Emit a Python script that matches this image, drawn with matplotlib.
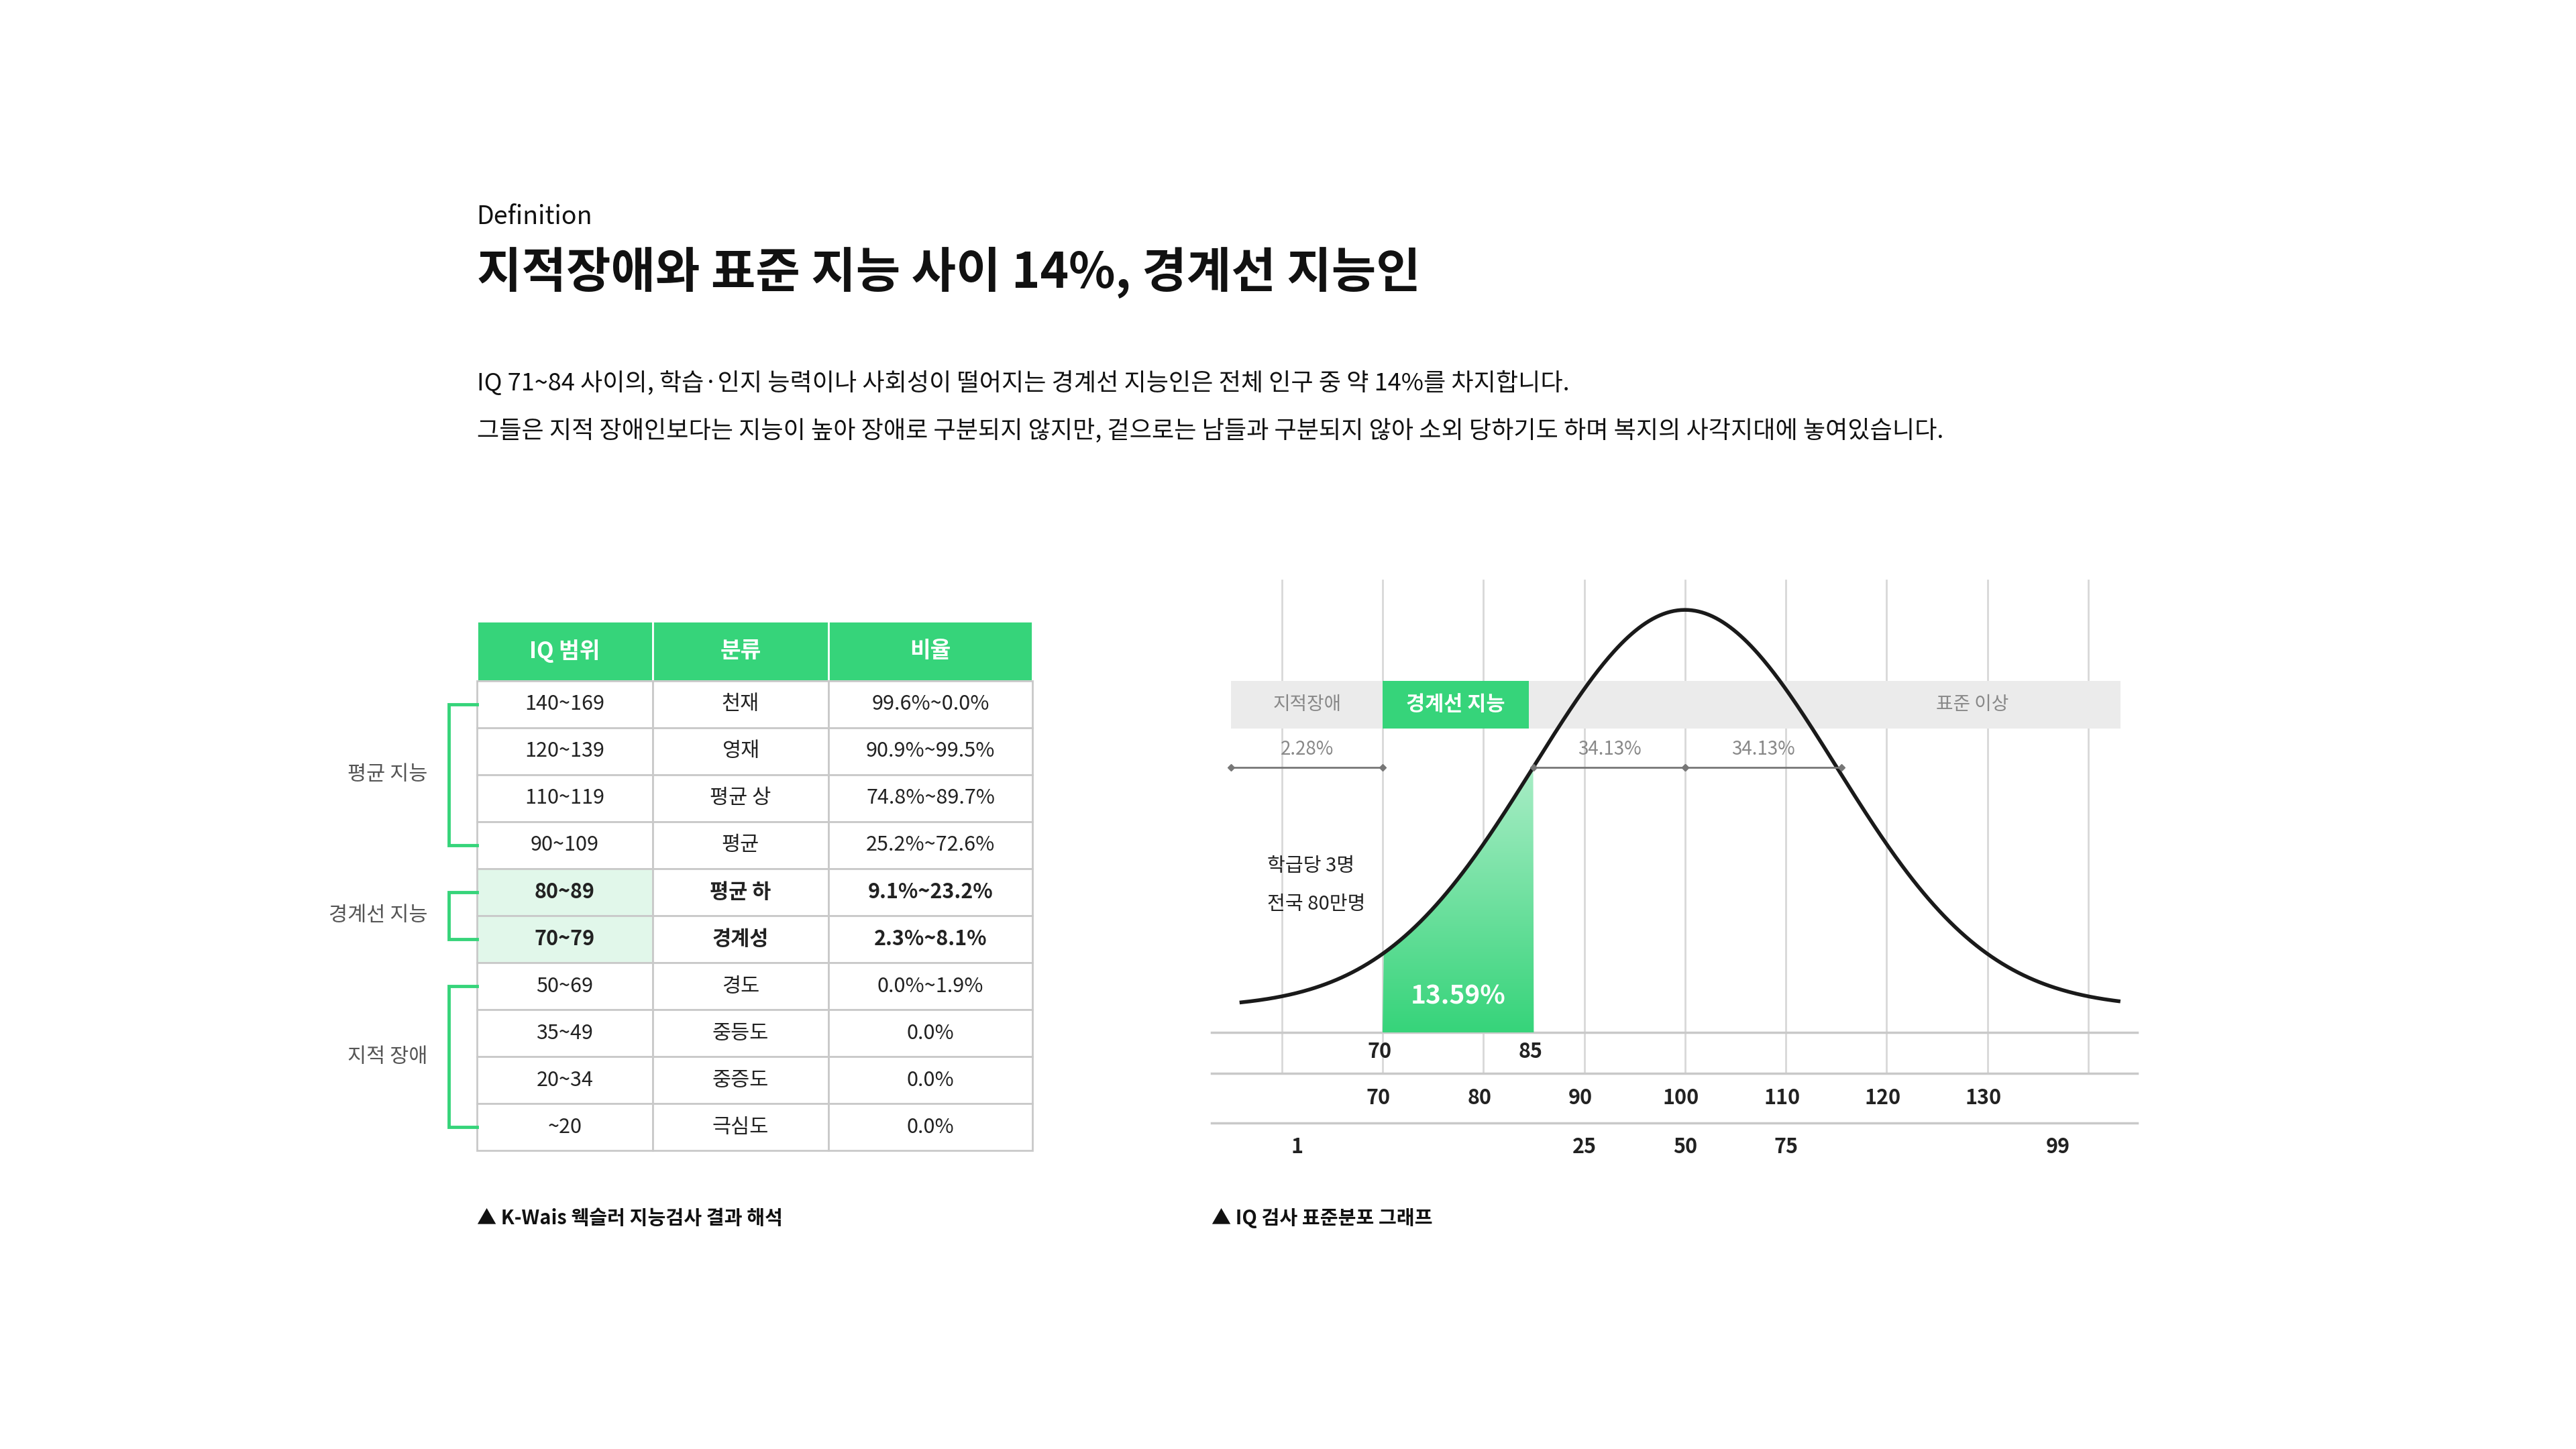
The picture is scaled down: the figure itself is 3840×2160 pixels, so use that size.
import numpy as np
import matplotlib
matplotlib.use("Agg")
import matplotlib.pyplot as plt
from matplotlib.patches import Rectangle, Polygon
from matplotlib.colors import LinearSegmentedColormap

plt.rcParams["font.family"] = ["Noto Sans CJK KR", "Noto Sans CJK JP", "Noto Sans CJK SC", "DejaVu Sans"]

# ---------------- data ----------------
headers = ["IQ 범위", "분류", "비율"]
iq_ranges = ["140~169", "120~139", "110~119", "90~109", "80~89", "70~79", "50~69", "35~49", "20~34", "~20"]
classes = ["천재", "영재", "평균 상", "평균", "평균 하", "경계성", "경도", "중등도", "중증도", "극심도"]
ratios = ["99.6%~0.0%", "90.9%~99.5%", "74.8%~89.7%", "25.2%~72.6%", "9.1%~23.2%",
          "2.3%~8.1%", "0.0%~1.9%", "0.0%", "0.0%", "0.0%"]
highlight_rows = [4, 5]
groups = [("평균 지능", 0, 3), ("경계선 지능", 4, 5), ("지적 장애", 6, 9)]

mean_iq, sd_iq = 100, 15
grid_iq = [60, 70, 80, 90, 100, 110, 120, 130, 140]
border_labels = [70, 85]
iq_labels = [70, 80, 90, 100, 110, 120, 130]
pct_labels = ["1", "25", "50", "75", "99"]
pct_pos = [61.5, 90, 100, 110, 137]
zones = [("지적장애", 55, 70), ("경계선 지능", 70, 84.5), ("표준 이상", 84.5, 143.2)]
spans = [("2.28%", 55, 70), ("34.13%", 85, 100), ("34.13%", 100, 115.5)]
border_share = "13.59%"

# ---------------- layout ----------------
W = 1567.0
S = 3840 / W
GREEN = "#36D47A"
LIGHT = "#E1F7EA"
LINE = "#C9C9C9"

fig = plt.figure(figsize=(38.4, 21.6), dpi=100)
ax = fig.add_axes([0, 0, 1, 1])
ax.set_xlim(0, 3840); ax.set_ylim(2160, 0); ax.axis("off")

def P(v): return v * S

ax.text(P(290), P(132), "Definition", fontsize=27, va="center", ha="left", color="#111")
ax.text(P(290), P(166), "지적장애와 표준 지능 사이 14%, 경계선 지능인", fontsize=52,
        fontweight="bold", va="center", ha="left", color="#111")
ax.text(P(290), P(233), "IQ 71~84 사이의, 학습·인지 능력이나 사회성이 떨어지는 경계선 지능인은 전체 인구 중 약 14%를 차지합니다.",
        fontsize=26, va="center", ha="left", color="#111")
ax.text(P(290), P(262), "그들은 지적 장애인보다는 지능이 높아 장애로 구분되지 않지만, 겉으로는 남들과 구분되지 않아 소외 당하기도 하며 복지의 사각지대에 놓여있습니다.",
        fontsize=26, va="center", ha="left", color="#111")

# table
cols = [290, 397, 504, 628]
ht, hb = 378, 414
rh = (700 - 414) / 10.0
for j in range(3):
    ax.add_patch(Rectangle((P(cols[j]), P(ht)), P(cols[j+1]-cols[j]), P(hb-ht),
                           facecolor=GREEN, edgecolor="white", lw=2))
    ax.text(P((cols[j]+cols[j+1])/2), P((ht+hb)/2), headers[j], color="white",
            fontsize=24, fontweight="bold", ha="center", va="center")
for i in range(10):
    y0 = hb + i*rh
    bold = i in highlight_rows
    vals = [iq_ranges[i], classes[i], ratios[i]]
    for j in range(3):
        fc = LIGHT if (bold and j == 0) else "white"
        ax.add_patch(Rectangle((P(cols[j]), P(y0)), P(cols[j+1]-cols[j]), P(rh),
                               facecolor=fc, edgecolor=LINE, lw=2))
        ax.text(P((cols[j]+cols[j+1])/2), P(y0+rh/2), vals[j], color="#222",
                fontsize=22, fontweight="bold" if bold else "normal", ha="center", va="center")
for name, a, b in groups:
    ya, yb = P(hb + (a+0.5)*rh), P(hb + (b+0.5)*rh)
    ax.plot([P(290), P(273), P(273), P(290)], [ya, ya, yb, yb], color=GREEN, lw=3.5,
            solid_joinstyle="miter")
    ax.text(P(260), (ya+yb)/2, name, fontsize=22, color="#555", ha="right", va="center")

ax.text(P(290), P(741), "▲ K-Wais 웩슬러 지능검사 결과 해석", fontsize=21, fontweight="bold",
        ha="left", va="center", color="#111")
ax.text(P(737), P(741), "▲ IQ 검사 표준분포 그래프", fontsize=21, fontweight="bold",
        ha="left", va="center", color="#111")

# chart axes: x in IQ, y in figure pixels
k = 6.133
cax = fig.add_axes([0, 0, 1, 1])
cax.patch.set_alpha(0)
xl = (100 + (0 - 1025)/k, 100 + (W - 1025)/k)
cax.axis("off")

for g in grid_iq:
    cax.plot([g, g], [P(353), P(653)], color="#D8D8D8", lw=2, zorder=1)
for yy in [628, 653, 683]:
    cax.plot([100 + (737-1025)/k, 100 + (1300-1025)/k], [P(yy), P(yy)], color=LINE, lw=2.5, zorder=2)

for idx, (name, a, b) in enumerate(zones):
    fc = GREEN if idx == 1 else "#EBEBEB"
    cax.add_patch(Rectangle((a, P(414)), b - a, P(29), facecolor=fc, edgecolor="none", zorder=3))
    cax.text((a+b)/2 if idx < 2 else 128.5, P(428.5), name, fontsize=22 if idx == 1 else 20,
             fontweight="bold" if idx == 1 else "normal",
             color="white" if idx == 1 else "#888", ha="center", va="center", zorder=4)

xs = np.linspace(56, 143, 500)
peak_px, base_px = P(371), P(613)
pdf = np.exp(-0.5 * ((xs - mean_iq)/sd_iq)**2)
ys = base_px - (base_px - peak_px) * pdf
m = (xs >= 70) & (xs <= 85)
poly_x = np.concatenate([[70], xs[m], [85]])
poly_y = np.concatenate([[P(628)], ys[m], [P(628)]])
poly = Polygon(np.column_stack([poly_x, poly_y]), closed=True, facecolor="none", edgecolor="none")
cax.add_patch(poly)
cmap = LinearSegmentedColormap.from_list("g", ["#A9EDC6", GREEN])
grad = np.linspace(0, 1, 256).reshape(-1, 1)
im = cax.imshow(grad, cmap=cmap, extent=[70, 85, P(628), P(467)], aspect="auto", zorder=5, origin="upper")
im.set_clip_path(poly)
cax.plot(xs, ys, color="#1A1A1A", lw=4, zorder=6)
cax.text(77.5, P(606), border_share, fontsize=28, fontweight="bold", color="white",
         ha="center", va="center", zorder=7)

for lab, a, b in spans:
    cax.plot([a, b], [P(467), P(467)], color="#777", lw=2, marker="D", markersize=5, zorder=7)
    cax.text((a+b)/2, P(456), lab, fontsize=20, color="#888", ha="center", va="center", zorder=7)

x0 = 100 + (771-1025)/k
cax.text(x0, P(527), "학급당 3명", fontsize=21, color="#222", ha="left", va="center")
cax.text(x0, P(550), "전국 80만명", fontsize=21, color="#222", ha="left", va="center")

for v in border_labels:
    cax.text(v - 0.3, P(640), str(v), fontsize=22, fontweight="bold", color="#222", ha="center", va="center")
for v in iq_labels:
    cax.text(v - 0.4, P(668), str(v), fontsize=22, fontweight="bold", color="#222", ha="center", va="center")
for lab, v in zip(pct_labels, pct_pos):
    cax.text(v, P(698), lab, fontsize=22, fontweight="bold", color="#222", ha="center", va="center")

cax.set_xlim(*xl); cax.set_ylim(2160, 0)
fig.savefig("out.png", dpi=100, facecolor="white")
